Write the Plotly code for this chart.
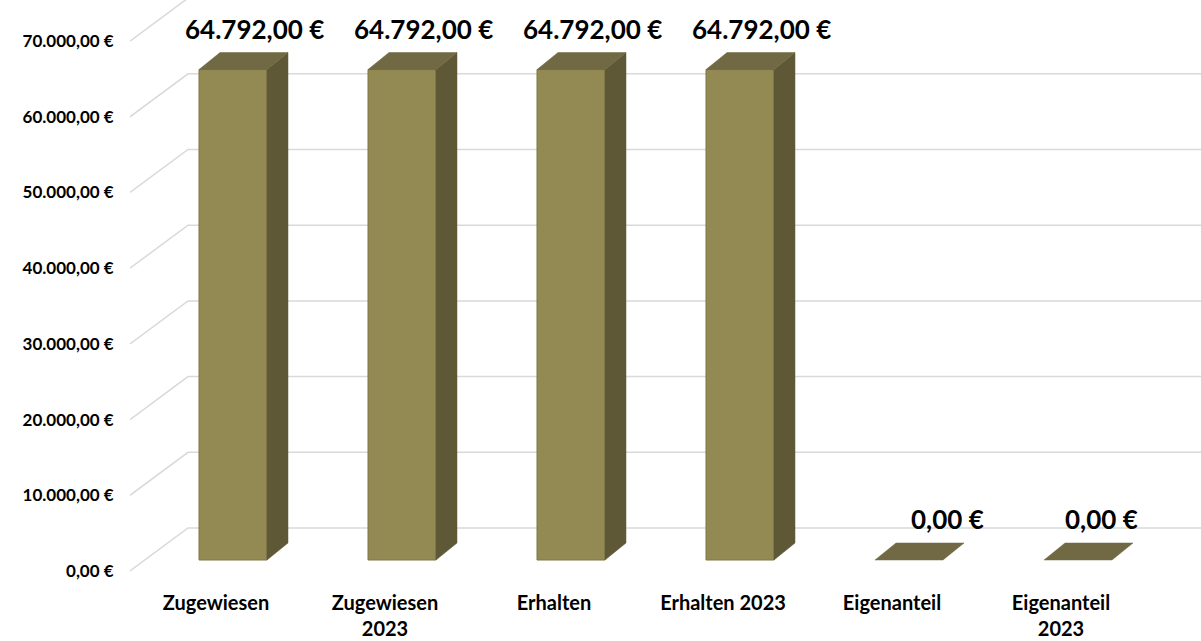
import plotly.graph_objects as go

# ---- data ----
categories = ["Zugewiesen", "Zugewiesen<br>2023", "Erhalten", "Erhalten 2023", "Eigenanteil", "Eigenanteil<br>2023"]
values = [64792.00, 64792.00, 64792.00, 64792.00, 0.00, 0.00]
y_ticks = [0, 10000, 20000, 30000, 40000, 50000, 60000, 70000]


def euro(v):
    s = f"{v:,.2f}"
    s = s.replace(",", "X").replace(".", ",").replace("X", ".")
    return s + " €"


y_ticktext = [euro(v) for v in y_ticks]
bar_labels = [euro(v) for v in values]

# ---- styles / geometry (pixel-derived) ----
FONT = "Lato"
front_col = "#938A53"
side_col = "#5E5836"
top_col = "#706943"
grid_col = "#D9D9D9"

W, H = 1201, 641
ML, MR, MT, MB = 130, 0, 0, 52
px_per_cat = 169.0
k = 75.7 / 10000.0  # px per value unit
plot_w = W - ML - MR
plot_h = H - MT - MB
x_lo = -(216 - ML) / px_per_cat
x_hi = x_lo + plot_w / px_per_cat
zero_px = 571 - MT
y_lo = -(plot_h - zero_px) / k
y_hi = y_lo + plot_h / k

# depth offsets
back_dx = 58 / px_per_cat
back_dy = 43 / k
bar_dx0 = 17 / px_per_cat
bar_dy0 = 11 / k
half_w = 34 / px_per_cat
depth_dx = 21 / px_per_cat
depth_dy = 17 / k

fig = go.Figure()

# gridlines (floor diagonal + back wall)
for v in y_ticks:
    fig.add_trace(go.Scatter(
        x=[x_lo, x_lo + back_dx, x_hi + 1],
        y=[v, v + back_dy, v + back_dy],
        mode="lines", line=dict(color=grid_col, width=1.5),
        hoverinfo="skip", showlegend=False))

# bars
for i, v in enumerate(values):
    x0 = i + bar_dx0 - half_w
    x1 = i + bar_dx0 + half_w
    yb = bar_dy0
    yt = bar_dy0 + v
    if v > 0:
        fig.add_trace(go.Scatter(
            x=[x0, x1, x1, x0, x0], y=[yb, yb, yt, yt, yb],
            fill="toself", fillcolor=front_col, mode="lines",
            line=dict(color="#7E7646", width=1), hoverinfo="skip", showlegend=False))
        fig.add_trace(go.Scatter(
            x=[x1, x1 + depth_dx, x1 + depth_dx, x1, x1],
            y=[yb, yb + depth_dy, yt + depth_dy, yt, yb],
            fill="toself", fillcolor=side_col, mode="lines",
            line=dict(color=side_col, width=0.5), hoverinfo="skip", showlegend=False))
    fig.add_trace(go.Scatter(
        x=[x0, x1, x1 + depth_dx, x0 + depth_dx, x0],
        y=[yt, yt, yt + depth_dy, yt + depth_dy, yt],
        fill="toself", fillcolor=top_col, mode="lines",
        line=dict(color=top_col, width=0.5), hoverinfo="skip", showlegend=False))

# data labels
label_dx = [0.13, 0.13, 0.13, 0.13, 0.23, 0.14]
for i, v in enumerate(values):
    fig.add_annotation(
        x=i + bar_dx0 + label_dx[i], y=v + bar_dy0 + 41 / k,
        text=f"<b>{bar_labels[i]}</b>", showarrow=False,
        xanchor="center", yanchor="middle",
        font=dict(family=FONT, size=26, color="#000000"))

fig.update_layout(
    width=W, height=H,
    margin=dict(l=ML, r=MR, t=MT, b=MB, pad=0),
    paper_bgcolor="white", plot_bgcolor="white",
    showlegend=False,
    xaxis=dict(range=[x_lo, x_hi], tickmode="array", tickvals=list(range(len(categories))),
               ticktext=[f"<b>{c}</b>" for c in categories], showgrid=False, zeroline=False,
               showline=False, ticks="", tickfont=dict(family=FONT, size=20, color="#000000"),
               fixedrange=True),
    yaxis=dict(range=[y_lo, y_hi], tickmode="array", tickvals=y_ticks,
               ticktext=[f"<b>{t}</b>" for t in y_ticktext], showgrid=False, zeroline=False,
               showline=False, ticks="outside", ticklen=12, tickcolor="rgba(0,0,0,0)",
               tickfont=dict(family=FONT, size=17, color="#000000"), fixedrange=True),
)

fig.write_html("out.html")
